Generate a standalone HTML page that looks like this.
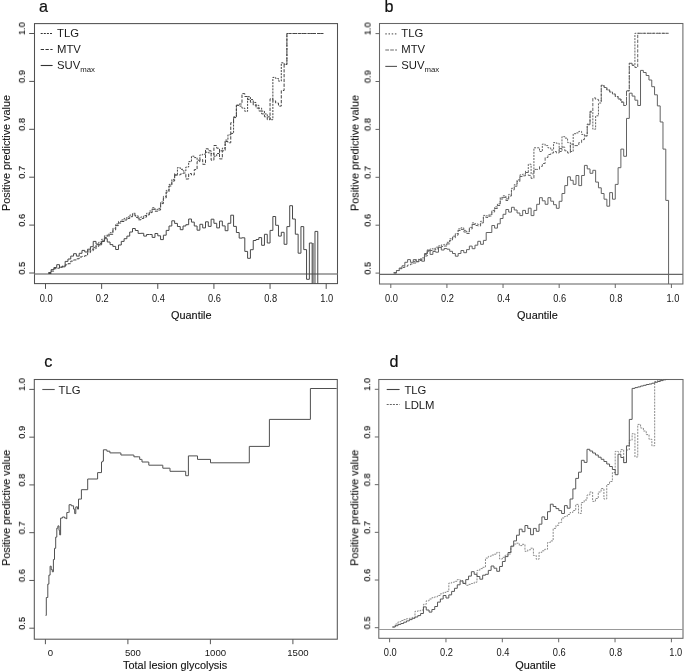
<!DOCTYPE html>
<html><head><meta charset="utf-8"><style>
html,body{margin:0;padding:0;background:#fff;}
svg{display:block;font-family:"Liberation Sans", sans-serif;} text{will-change:transform;}
</style></head><body>
<svg width="685" height="671" viewBox="0 0 685 671">
<rect width="685" height="671" fill="#fff"/>
<rect x="34.5" y="23.6" width="303.00" height="260.00" fill="none" stroke="#505050" stroke-width="1.05"/>
<line x1="45.50" y1="283.6" x2="45.50" y2="288.90000000000003" stroke="#505050" stroke-width="1"/>
<text transform="translate(46.1 302) scale(0.92 1)" font-size="10.1" text-anchor="middle" fill="#161616">0.0</text>
<line x1="101.64" y1="283.6" x2="101.64" y2="288.90000000000003" stroke="#505050" stroke-width="1"/>
<text transform="translate(102.24 302) scale(0.92 1)" font-size="10.1" text-anchor="middle" fill="#161616">0.2</text>
<line x1="157.78" y1="283.6" x2="157.78" y2="288.90000000000003" stroke="#505050" stroke-width="1"/>
<text transform="translate(158.38 302) scale(0.92 1)" font-size="10.1" text-anchor="middle" fill="#161616">0.4</text>
<line x1="213.92" y1="283.6" x2="213.92" y2="288.90000000000003" stroke="#505050" stroke-width="1"/>
<text transform="translate(214.52 302) scale(0.92 1)" font-size="10.1" text-anchor="middle" fill="#161616">0.6</text>
<line x1="270.06" y1="283.6" x2="270.06" y2="288.90000000000003" stroke="#505050" stroke-width="1"/>
<text transform="translate(270.66 302) scale(0.92 1)" font-size="10.1" text-anchor="middle" fill="#161616">0.8</text>
<line x1="326.20" y1="283.6" x2="326.20" y2="288.90000000000003" stroke="#505050" stroke-width="1"/>
<text transform="translate(326.8 302) scale(0.92 1)" font-size="10.1" text-anchor="middle" fill="#161616">1.0</text>
<line x1="29.2" y1="273.00" x2="34.5" y2="273.00" stroke="#505050" stroke-width="1"/>
<text transform="translate(24.9 268.2) rotate(-90) scale(0.95 1)" font-size="9.8" text-anchor="middle" fill="#000" stroke="#000" stroke-width="0.12">0.5</text>
<line x1="29.2" y1="225.10" x2="34.5" y2="225.10" stroke="#505050" stroke-width="1"/>
<text transform="translate(24.9 220.3) rotate(-90) scale(0.95 1)" font-size="9.8" text-anchor="middle" fill="#000" stroke="#000" stroke-width="0.12">0.6</text>
<line x1="29.2" y1="177.20" x2="34.5" y2="177.20" stroke="#505050" stroke-width="1"/>
<text transform="translate(24.9 172.4) rotate(-90) scale(0.95 1)" font-size="9.8" text-anchor="middle" fill="#000" stroke="#000" stroke-width="0.12">0.7</text>
<line x1="29.2" y1="129.30" x2="34.5" y2="129.30" stroke="#505050" stroke-width="1"/>
<text transform="translate(24.9 124.5) rotate(-90) scale(0.95 1)" font-size="9.8" text-anchor="middle" fill="#000" stroke="#000" stroke-width="0.12">0.8</text>
<line x1="29.2" y1="81.40" x2="34.5" y2="81.40" stroke="#505050" stroke-width="1"/>
<text transform="translate(24.9 76.6) rotate(-90) scale(0.95 1)" font-size="9.8" text-anchor="middle" fill="#000" stroke="#000" stroke-width="0.12">0.9</text>
<line x1="29.2" y1="33.50" x2="34.5" y2="33.50" stroke="#505050" stroke-width="1"/>
<text transform="translate(24.9 28.7) rotate(-90) scale(0.95 1)" font-size="9.8" text-anchor="middle" fill="#000" stroke="#000" stroke-width="0.12">1.0</text>
<text transform="translate(191.3 319.4)" font-size="10.9" text-anchor="middle" fill="#111" stroke="#111" stroke-width="0.12">Quantile</text>
<text transform="translate(10 153) rotate(-90)" font-size="10.8" text-anchor="middle" fill="#111" stroke="#111" stroke-width="0.12">Positive predictive value</text>
<text transform="translate(39.0 12.4) scale(0.95 1)" font-size="17" text-anchor="start" fill="#111" stroke="#111" stroke-width="0.2">a</text>
<rect x="379.5" y="23.5" width="303.40" height="260.50" fill="none" stroke="#666" stroke-width="1.05"/>
<line x1="390.80" y1="284" x2="390.80" y2="288.0" stroke="#666" stroke-width="1"/>
<text transform="translate(391.4 302.2) scale(0.92 1)" font-size="10.1" text-anchor="middle" fill="#161616">0.0</text>
<line x1="446.92" y1="284" x2="446.92" y2="288.0" stroke="#666" stroke-width="1"/>
<text transform="translate(447.52 302.2) scale(0.92 1)" font-size="10.1" text-anchor="middle" fill="#161616">0.2</text>
<line x1="503.04" y1="284" x2="503.04" y2="288.0" stroke="#666" stroke-width="1"/>
<text transform="translate(503.64 302.2) scale(0.92 1)" font-size="10.1" text-anchor="middle" fill="#161616">0.4</text>
<line x1="559.16" y1="284" x2="559.16" y2="288.0" stroke="#666" stroke-width="1"/>
<text transform="translate(559.76 302.2) scale(0.92 1)" font-size="10.1" text-anchor="middle" fill="#161616">0.6</text>
<line x1="615.28" y1="284" x2="615.28" y2="288.0" stroke="#666" stroke-width="1"/>
<text transform="translate(615.88 302.2) scale(0.92 1)" font-size="10.1" text-anchor="middle" fill="#161616">0.8</text>
<line x1="671.40" y1="284" x2="671.40" y2="288.0" stroke="#666" stroke-width="1"/>
<text transform="translate(672.9 302.2) scale(0.92 1)" font-size="10.1" text-anchor="middle" fill="#161616">1.0</text>
<line x1="375.5" y1="273.10" x2="379.5" y2="273.10" stroke="#666" stroke-width="1"/>
<text transform="translate(370.6 268.3) rotate(-90) scale(0.95 1)" font-size="9.8" text-anchor="middle" fill="#000" stroke="#000" stroke-width="0.12">0.5</text>
<line x1="375.5" y1="225.20" x2="379.5" y2="225.20" stroke="#666" stroke-width="1"/>
<text transform="translate(370.6 220.4) rotate(-90) scale(0.95 1)" font-size="9.8" text-anchor="middle" fill="#000" stroke="#000" stroke-width="0.12">0.6</text>
<line x1="375.5" y1="177.30" x2="379.5" y2="177.30" stroke="#666" stroke-width="1"/>
<text transform="translate(370.6 172.5) rotate(-90) scale(0.95 1)" font-size="9.8" text-anchor="middle" fill="#000" stroke="#000" stroke-width="0.12">0.7</text>
<line x1="375.5" y1="129.40" x2="379.5" y2="129.40" stroke="#666" stroke-width="1"/>
<text transform="translate(370.6 124.6) rotate(-90) scale(0.95 1)" font-size="9.8" text-anchor="middle" fill="#000" stroke="#000" stroke-width="0.12">0.8</text>
<line x1="375.5" y1="81.50" x2="379.5" y2="81.50" stroke="#666" stroke-width="1"/>
<text transform="translate(370.6 76.7) rotate(-90) scale(0.95 1)" font-size="9.8" text-anchor="middle" fill="#000" stroke="#000" stroke-width="0.12">0.9</text>
<line x1="375.5" y1="33.60" x2="379.5" y2="33.60" stroke="#666" stroke-width="1"/>
<text transform="translate(370.6 28.8) rotate(-90) scale(0.95 1)" font-size="9.8" text-anchor="middle" fill="#000" stroke="#000" stroke-width="0.12">1.0</text>
<text transform="translate(537.4 319.4)" font-size="10.9" text-anchor="middle" fill="#111" stroke="#111" stroke-width="0.12">Quantile</text>
<text transform="translate(358.6 153) rotate(-90)" font-size="10.8" text-anchor="middle" fill="#111" stroke="#111" stroke-width="0.12">Positive predictive value</text>
<text transform="translate(384.6 12.3) scale(0.95 1)" font-size="17" text-anchor="start" fill="#111" stroke="#111" stroke-width="0.2">b</text>
<rect x="34.3" y="379.5" width="303.00" height="259.70" fill="none" stroke="#555" stroke-width="1.05"/>
<line x1="45.40" y1="639.2" x2="45.40" y2="644.2" stroke="#555" stroke-width="1"/>
<text transform="translate(50.4 655.5)" font-size="9.6" text-anchor="middle" fill="#161616">0</text>
<line x1="127.90" y1="639.2" x2="127.90" y2="644.2" stroke="#555" stroke-width="1"/>
<text transform="translate(132.9 655.5)" font-size="9.6" text-anchor="middle" fill="#161616">500</text>
<line x1="210.40" y1="639.2" x2="210.40" y2="644.2" stroke="#555" stroke-width="1"/>
<text transform="translate(215.4 655.5)" font-size="9.6" text-anchor="middle" fill="#161616">1000</text>
<line x1="292.90" y1="639.2" x2="292.90" y2="644.2" stroke="#555" stroke-width="1"/>
<text transform="translate(297.9 655.5)" font-size="9.6" text-anchor="middle" fill="#161616">1500</text>
<line x1="29.299999999999997" y1="628.20" x2="34.3" y2="628.20" stroke="#555" stroke-width="1"/>
<text transform="translate(24.9 623.4) rotate(-90) scale(0.95 1)" font-size="9.8" text-anchor="middle" fill="#000" stroke="#000" stroke-width="0.12">0.5</text>
<line x1="29.299999999999997" y1="580.44" x2="34.3" y2="580.44" stroke="#555" stroke-width="1"/>
<text transform="translate(24.9 575.64) rotate(-90) scale(0.95 1)" font-size="9.8" text-anchor="middle" fill="#000" stroke="#000" stroke-width="0.12">0.6</text>
<line x1="29.299999999999997" y1="532.68" x2="34.3" y2="532.68" stroke="#555" stroke-width="1"/>
<text transform="translate(24.9 527.88) rotate(-90) scale(0.95 1)" font-size="9.8" text-anchor="middle" fill="#000" stroke="#000" stroke-width="0.12">0.7</text>
<line x1="29.299999999999997" y1="484.92" x2="34.3" y2="484.92" stroke="#555" stroke-width="1"/>
<text transform="translate(24.9 480.12) rotate(-90) scale(0.95 1)" font-size="9.8" text-anchor="middle" fill="#000" stroke="#000" stroke-width="0.12">0.8</text>
<line x1="29.299999999999997" y1="437.16" x2="34.3" y2="437.16" stroke="#555" stroke-width="1"/>
<text transform="translate(24.9 432.36) rotate(-90) scale(0.95 1)" font-size="9.8" text-anchor="middle" fill="#000" stroke="#000" stroke-width="0.12">0.9</text>
<line x1="29.299999999999997" y1="389.40" x2="34.3" y2="389.40" stroke="#555" stroke-width="1"/>
<text transform="translate(24.9 384.6) rotate(-90) scale(0.95 1)" font-size="9.8" text-anchor="middle" fill="#000" stroke="#000" stroke-width="0.12">1.0</text>
<text transform="translate(175.1 668.6)" font-size="10.9" text-anchor="middle" fill="#111" stroke="#111" stroke-width="0.12">Total lesion glycolysis</text>
<text transform="translate(10 507.8) rotate(-90)" font-size="10.8" text-anchor="middle" fill="#111" stroke="#111" stroke-width="0.12">Positive predictive value</text>
<text transform="translate(44.3 366.8) scale(0.95 1)" font-size="17" text-anchor="start" fill="#111" stroke="#111" stroke-width="0.2">c</text>
<rect x="378.8" y="379.5" width="304.20" height="258.80" fill="none" stroke="#666" stroke-width="1.05"/>
<line x1="389.60" y1="638.3" x2="389.60" y2="642.3" stroke="#666" stroke-width="1"/>
<text transform="translate(390.2 656.0) scale(0.92 1)" font-size="10.1" text-anchor="middle" fill="#161616">0.0</text>
<line x1="445.96" y1="638.3" x2="445.96" y2="642.3" stroke="#666" stroke-width="1"/>
<text transform="translate(446.56 656.0) scale(0.92 1)" font-size="10.1" text-anchor="middle" fill="#161616">0.2</text>
<line x1="502.32" y1="638.3" x2="502.32" y2="642.3" stroke="#666" stroke-width="1"/>
<text transform="translate(502.92 656.0) scale(0.92 1)" font-size="10.1" text-anchor="middle" fill="#161616">0.4</text>
<line x1="558.68" y1="638.3" x2="558.68" y2="642.3" stroke="#666" stroke-width="1"/>
<text transform="translate(559.28 656.0) scale(0.92 1)" font-size="10.1" text-anchor="middle" fill="#161616">0.6</text>
<line x1="615.04" y1="638.3" x2="615.04" y2="642.3" stroke="#666" stroke-width="1"/>
<text transform="translate(615.64 656.0) scale(0.92 1)" font-size="10.1" text-anchor="middle" fill="#161616">0.8</text>
<line x1="671.40" y1="638.3" x2="671.40" y2="642.3" stroke="#666" stroke-width="1"/>
<text transform="translate(675.8 656.0) scale(0.92 1)" font-size="10.1" text-anchor="middle" fill="#161616">1.0</text>
<line x1="374.8" y1="627.70" x2="378.8" y2="627.70" stroke="#666" stroke-width="1"/>
<text transform="translate(370.2 622.9) rotate(-90) scale(0.95 1)" font-size="9.8" text-anchor="middle" fill="#000" stroke="#000" stroke-width="0.12">0.5</text>
<line x1="374.8" y1="580.02" x2="378.8" y2="580.02" stroke="#666" stroke-width="1"/>
<text transform="translate(370.2 575.22) rotate(-90) scale(0.95 1)" font-size="9.8" text-anchor="middle" fill="#000" stroke="#000" stroke-width="0.12">0.6</text>
<line x1="374.8" y1="532.34" x2="378.8" y2="532.34" stroke="#666" stroke-width="1"/>
<text transform="translate(370.2 527.54) rotate(-90) scale(0.95 1)" font-size="9.8" text-anchor="middle" fill="#000" stroke="#000" stroke-width="0.12">0.7</text>
<line x1="374.8" y1="484.66" x2="378.8" y2="484.66" stroke="#666" stroke-width="1"/>
<text transform="translate(370.2 479.86) rotate(-90) scale(0.95 1)" font-size="9.8" text-anchor="middle" fill="#000" stroke="#000" stroke-width="0.12">0.8</text>
<line x1="374.8" y1="436.98" x2="378.8" y2="436.98" stroke="#666" stroke-width="1"/>
<text transform="translate(370.2 432.18) rotate(-90) scale(0.95 1)" font-size="9.8" text-anchor="middle" fill="#000" stroke="#000" stroke-width="0.12">0.9</text>
<line x1="374.8" y1="389.30" x2="378.8" y2="389.30" stroke="#666" stroke-width="1"/>
<text transform="translate(370.2 384.5) rotate(-90) scale(0.95 1)" font-size="9.8" text-anchor="middle" fill="#000" stroke="#000" stroke-width="0.12">1.0</text>
<text transform="translate(535.5 668.6)" font-size="10.9" text-anchor="middle" fill="#111" stroke="#111" stroke-width="0.12">Quantile</text>
<text transform="translate(358.3 507.8) rotate(-90)" font-size="10.8" text-anchor="middle" fill="#111" stroke="#111" stroke-width="0.12">Positive predictive value</text>
<text transform="translate(389.4 367) scale(0.95 1)" font-size="17" text-anchor="start" fill="#111" stroke="#111" stroke-width="0.2">d</text>
<line x1="34.5" y1="274" x2="337.5" y2="274" stroke="#8a8a8a" stroke-width="1.3"/>
<line x1="379.5" y1="274.4" x2="682.9" y2="274.4" stroke="#666" stroke-width="1.1"/>
<line x1="378.8" y1="629.5" x2="683" y2="629.5" stroke="#999" stroke-width="1.1"/>
<line x1="40.7" y1="33.5" x2="52.6" y2="33.5" stroke="#333" stroke-width="1.1" stroke-dasharray="2 1.1"/>
<text x="57" y="36.9" font-size="11.3" fill="#1a1a1a">TLG</text>
<line x1="40.7" y1="49.5" x2="52.6" y2="49.5" stroke="#333" stroke-width="1.1" stroke-dasharray="3.3 1.5"/>
<text x="57" y="52.9" font-size="11.3" fill="#1a1a1a">MTV</text>
<line x1="40.7" y1="65.5" x2="52.6" y2="65.5" stroke="#333" stroke-width="1.1"/>
<text x="57" y="68.9" font-size="11.3" fill="#1a1a1a">SUV<tspan font-size="7.8" dy="2.6">max</tspan></text>
<line x1="385.3" y1="33.9" x2="397" y2="33.9" stroke="#6a6a6a" stroke-width="1.1" stroke-dasharray="1.5 1.7"/>
<text x="401.3" y="36.9" font-size="11.3" fill="#1a1a1a">TLG</text>
<line x1="385.3" y1="50.0" x2="397" y2="50.0" stroke="#6a6a6a" stroke-width="1.1" stroke-dasharray="3.7 1.2"/>
<text x="401.3" y="53.2" font-size="11.3" fill="#1a1a1a">MTV</text>
<line x1="385.3" y1="66.4" x2="397" y2="66.4" stroke="#555" stroke-width="1.1"/>
<text x="401.3" y="69.4" font-size="11.3" fill="#1a1a1a">SUV<tspan font-size="7.8" dy="2.6">max</tspan></text>
<line x1="42.3" y1="389.5" x2="54.7" y2="389.5" stroke="#555" stroke-width="1.1"/>
<text x="58.6" y="393.5" font-size="11.3" fill="#1a1a1a">TLG</text>
<line x1="386.7" y1="389.5" x2="399.6" y2="389.5" stroke="#444" stroke-width="1.1"/>
<text x="404.4" y="393.5" font-size="11.3" fill="#1a1a1a">TLG</text>
<line x1="386.7" y1="404.5" x2="399.6" y2="404.5" stroke="#666" stroke-width="1.1" stroke-dasharray="2 1.1"/>
<text x="404.4" y="408.5" font-size="11.3" fill="#1a1a1a">LDLM</text>
<defs><clipPath id="ca"><rect x="34.3" y="23.6" width="303.1" height="260.2"/></clipPath><clipPath id="cb"><rect x="379.4" y="23.6" width="302.8" height="260.4"/></clipPath><clipPath id="cd"><rect x="378.7" y="379.4" width="304.2" height="258.9"/></clipPath></defs>
<path d="M48.31 272.50H51.11V269.60H53.92V267.50H56.73V264.70H59.53V267.20H62.34V266.80H65.15V261.40H67.96V259.00H70.76V256.10H73.57V253.70H76.38V256.10H79.18V253.30H81.99V250.40H84.80V252.00H87.60V249.20H90.41V246.70H93.22V241.40H96.03V244.10H98.83V244.80H101.64V241.50H104.45V238.70H107.25V242.00H110.06V244.60H112.87V246.40H115.67V249.50H118.48V245.00H121.29V241.40H124.10V238.70H126.90V236.10H129.71V232.00H132.52V228.50H135.32V230.50H138.13V233.40H140.94V233.30H143.75V236.10H146.55V234.50H149.36V234.50H152.17V237.40H154.97V233.50H157.78V235.80H160.59V239.60H163.39V235.20H166.20V230.40H169.01V226.00H171.81V220.80H174.62V223.40H177.43V226.50H180.24V229.70H183.04V226.00H185.85V224.70H188.66V219.00H191.46V222.10H194.27V226.00H197.08V230.20H199.88V224.30H202.69V227.90H205.50V221.80H208.31V226.40H211.11V219.20H213.92V223.30H216.73V227.90H219.53V221.10H222.34V225.90H225.15V230.70H227.95V223.30H230.76V215.20H233.57V226.40H236.38V232.50H239.18V238.10H241.99V237.80H244.80V251.40H247.60V258.30H250.41V249.70H253.22V240.50H256.02V239.50H258.83V237.60H261.64V245.30H264.45V234.30H267.25V243.00H270.06V230.40H272.87V216.50H275.67V225.30H278.48V236.10H281.29V232.30H284.10V244.30H286.90V226.60H289.71V205.70H292.52V219.00H295.32V234.20H298.13V253.20H300.94V226.60H303.74V249.60H306.55V279.30H309.36V243.00H312.17V292.00H314.97V231.40H317.78V292.00" fill="none" stroke="#484848" stroke-width="1.0" clip-path="url(#ca)"/>
<path d="M313.1 243.0V284.0" fill="none" stroke="#555" stroke-width="1.0" clip-path="url(#ca)"/>
<path d="M48.31 273.50H51.11V271.10H53.92V268.70H56.73V268.20H59.53V267.10H62.34V266.00H65.15V264.85H67.96V263.70H70.76V261.10H73.57V259.95H76.38V258.80H79.18V257.00H81.99V256.35H84.80V255.70H87.60V252.60H90.41V250.80H93.22V249.00H96.03V246.30H98.83V243.60H101.64V240.90H104.45V237.40H107.25V235.85H110.06V234.30H112.87V229.95H115.67V225.60H118.48V223.00H121.29V221.50H124.10V220.00H126.90V218.50H129.71V216.70H132.52V214.90H135.32V217.35H138.13V219.80H140.94V218.45H143.75V217.10H146.55V214.85H149.36V212.60H152.17V209.30H154.97V211.20H157.78V210.00H160.59V203.60H163.39V198.00H166.20V192.00H169.01V186.00H171.81V181.00H174.62V175.00" fill="none" stroke="#444" stroke-width="1.0" stroke-dasharray="3.3 1.5" clip-path="url(#ca)"/>
<path d="M87.60 251.00H90.41V249.20H93.22V247.40H96.03V244.70H98.83V242.00H101.64V239.30H104.45V235.80H107.25V234.25H110.06V232.70H112.87V228.35H115.67V224.00H118.48V221.40H121.29V219.90H124.10V218.40H126.90V216.90H129.71V215.10H132.52V213.30H135.32V215.75H138.13V218.20H140.94V216.85H143.75V215.50H146.55V213.25H149.36V211.00H152.17V207.70H154.97V209.60H157.78V208.40H160.59V202.00H163.39V196.40H166.20V190.40H169.01V184.40H171.81V179.40H174.62V173.40" fill="none" stroke="#555" stroke-width="1.0" stroke-dasharray="2 1.1" clip-path="url(#ca)"/>
<path d="M174.62 175.00H177.43V175.00H180.24V174.00H183.04V173.00H185.85V179.00H188.66V173.60H191.46V175.00H194.27V169.60H197.08V161.60H199.88V159.60H202.69V164.30H205.50V148.80H208.31V150.80H211.11V160.20H213.92V145.50H216.73V148.20H219.53V158.90H222.34V150.80H225.15V141.50H227.95V142.80H230.76V122.70H233.57V117.60H236.38V105.10H239.18V104.00H241.99V93.60H244.80V96.50H247.60V99.40H250.41V102.30H253.22V105.20H256.02V108.10H258.83V111.00H261.64V113.90H264.45V116.80H267.25V119.70H270.06V98.80H272.87V100.90H275.67V103.00H278.48V106.10H281.29V90.50H284.10V64.40H286.90V33.50H289.71V33.50H292.52V33.50H295.32V33.50H298.13V33.50H300.94V33.50H303.74V33.50H306.55V33.50H309.36V33.50H312.17V33.50H314.97V33.50H317.78V33.50H320.59V33.50H323.39V33.50" fill="none" stroke="#444" stroke-width="1.0" stroke-dasharray="3.3 1.5" clip-path="url(#ca)"/>
<path d="M174.62 175.00H177.43V167.60H180.24V169.30H183.04V171.00H185.85V167.00H188.66V161.60H191.46V156.20H194.27V157.60H197.08V160.20H199.88V154.90H202.69V154.20H205.50V152.20H208.31V152.85H211.11V153.50H213.92V156.20H216.73V153.50H219.53V150.80H222.34V148.20H225.15V140.10H227.95V134.80H230.76V133.40H233.57V116.90H236.38V105.40H239.18V106.10H241.99V108.20H244.80V111.30H247.60V96.70H250.41V99.58H253.22V102.45H256.02V105.33H258.83V108.20H261.64V111.08H264.45V113.95H267.25V116.83H270.06V119.70H272.87V77.40H275.67V78.50H278.48V81.10H281.29V62.80H284.10V64.40H286.90V33.50H289.71V33.50H292.52V33.50H295.32V33.50H298.13V33.50H300.94V33.50H303.74V33.50H306.55V33.50H309.36V33.50H312.17V33.50H314.97V33.50H317.78V33.50H320.59V33.50H323.39V33.50" fill="none" stroke="#444" stroke-width="1.0" stroke-dasharray="2 1.1" clip-path="url(#ca)"/>
<path d="M393.61 273.20H396.41V270.60H399.22V268.00H402.02V265.80H404.83V262.30H407.64V259.60H410.44V262.30H413.25V259.60H416.05V261.80H418.86V259.60H421.67V261.20H424.47V253.50H427.28V250.40H430.08V254.40H432.89V251.50H435.70V252.20H438.50V247.40H441.31V250.00H444.11V248.50H446.92V249.20H449.73V251.30H452.53V253.50H455.34V256.20H458.14V253.50H460.95V250.50H463.76V252.70H466.56V249.60H469.37V246.10H472.17V248.70H474.98V245.20H477.79V241.30H480.59V244.30H483.40V240.40H486.20V232.50H489.01V232.50H491.82V225.50H494.62V228.10H497.43V223.80H500.23V218.50H503.04V214.30H505.85V209.50H508.65V212.10H511.46V207.30H514.26V210.00H517.07V213.00H519.88V215.60H522.68V210.40H525.49V213.50H528.29V208.20H531.10V215.60H533.91V210.40H536.71V204.30H539.52V197.70H542.32V200.80H545.13V204.30H547.94V197.70H550.74V201.20H553.55V204.70H556.35V208.30H559.16V201.30H561.97V193.50H564.77V185.60H567.58V176.80H570.38V180.30H573.19V184.30H576.00V175.50H578.80V185.60H581.61V175.50H584.41V165.40H587.22V168.90H590.03V173.30H592.83V170.30H595.64V182.10H598.44V187.80H601.25V193.50H604.06V199.20H606.86V206.20H609.67V192.60H612.47V199.20H615.28V184.40H618.09V167.70H620.89V149.10H623.70V156.30H626.50V118.40H629.31V93.20H632.12V96.10H634.92V100.20H637.73V105.50H640.53V70.40H643.34V72.50H646.15V75.50H648.95V80.00H651.76V86.70H654.56V94.80H657.37V105.90H660.18V122.00H662.98V149.10H665.79V200.40H668.59V300.00" fill="none" stroke="#626262" stroke-width="1.0" clip-path="url(#cb)"/>
<path d="M393.61 272.50H396.41V270.50H399.22V268.70H402.02V267.50H404.83V266.30H407.64V265.00H410.44V264.00H413.25V263.00H416.05V261.50H418.86V260.50H421.67V259.50H424.47V256.00H427.28V251.50H430.08V250.50H432.89V250.00H435.70V248.80H438.50V247.50H441.31V246.50H444.11V246.00H446.92V243.90H449.73V240.40H452.53V237.80H455.34V235.10H458.14V230.50H460.95V229.40H463.76V232.00H466.56V233.50H469.37V229.00H472.17V224.50H474.98V225.50H477.79V226.00H480.59V222.90H483.40V217.00H486.20V217.50H489.01V216.00H491.82V212.00H494.62V208.50H497.43V205.50H500.23V199.00H503.04V197.40H505.85V200.50H508.65V196.00H511.46V189.90H514.26V186.20H517.07V181.50H519.88V176.50H522.68V175.80H525.49V172.50" fill="none" stroke="#626262" stroke-width="1.0" stroke-dasharray="3.3 1.5" clip-path="url(#cb)"/>
<path d="M413.25 261.40H416.05V259.90H418.86V258.90H421.67V257.90H424.47V254.40H427.28V249.90H430.08V248.90H432.89V248.40H435.70V247.20H438.50V245.90H441.31V244.90H444.11V244.40H446.92V242.30H449.73V238.80H452.53V236.20H455.34V233.50H458.14V228.90H460.95V227.80H463.76V230.40H466.56V231.90H469.37V227.40H472.17V222.90H474.98V223.90H477.79V224.40H480.59V221.30H483.40V215.40H486.20V215.90H489.01V214.40H491.82V210.40H494.62V206.90H497.43V203.90H500.23V197.40H503.04V195.80H505.85V198.90H508.65V194.40H511.46V188.30H514.26V184.60H517.07V179.90H519.88V174.90H522.68V174.20H525.49V170.90" fill="none" stroke="#666" stroke-width="1.0" stroke-dasharray="2 1.1" clip-path="url(#cb)"/>
<path d="M525.49 172.50H528.29V175.40H531.10V178.40H533.91V169.40H536.71V169.40H539.52V166.40H542.32V163.50H545.13V157.50H547.94V154.50H550.74V153.00H553.55V151.50H556.35V153.00H559.16V148.60H561.97V147.10H564.77V150.80H567.58V153.00H570.38V144.10H573.19V145.60H576.00V145.60H578.80V142.60H581.61V139.60H584.41V135.90H587.22V124.70H590.03V111.30H592.83V97.90H595.64V99.40H598.44V100.90H601.25V85.20H604.06V87.50H606.86V90.00H609.67V92.00H612.47V94.00H615.28V96.50H618.09V99.00H620.89V102.00H623.70V105.50H626.50V90.80H629.31V63.30H632.12V65.30H634.92V67.50H637.73V33.30H640.53V33.30H643.34V33.30H646.15V33.30H648.95V33.30H651.76V33.30H654.56V33.30H657.37V33.30H660.18V33.30H662.98V33.30H665.79V33.30H668.59V33.30" fill="none" stroke="#626262" stroke-width="1.0" stroke-dasharray="3.3 1.5" clip-path="url(#cb)"/>
<path d="M525.49 172.50H528.29V164.20H531.10V173.90H533.91V147.80H536.71V147.80H539.52V151.50H542.32V144.10H545.13V145.60H547.94V147.80H550.74V150.00H553.55V142.60H556.35V143.30H559.16V151.50H561.97V136.60H564.77V138.10H567.58V142.60H570.38V151.50H573.19V133.70H576.00V132.90H578.80V131.40H581.61V134.40H584.41V135.90H587.22V124.00H590.03V112.00H592.83V129.20H595.64V115.80H598.44V103.00H601.25V85.50H604.06V87.50H606.86V90.00H609.67V92.00H612.47V94.00H615.28V96.50H618.09V99.00H620.89V102.00H623.70V105.50H626.50V90.80H629.31V63.30H632.12V65.30H634.92V33.30H637.73V33.30H640.53V33.30H643.34V33.30H646.15V33.30H648.95V33.30H651.76V33.30H654.56V33.30H657.37V33.30H660.18V33.30H662.98V33.30H665.79V33.30H668.59V33.30" fill="none" stroke="#626262" stroke-width="1.0" stroke-dasharray="2 1.1" clip-path="url(#cb)"/>
<path d="M45.6 615.4H46.3V597.5H47.8V584.1H48.9V575.1H50.1V566.2H51.2V569.6H52.3V571.8H53.4V559.5H54.5V548.3H55.7V537.1H56.8V528.2H57.9V525.9H59.0V530.4H59.7V534.9H60.6V518.1H62.4V517.0H64.6V518.1H66.4V518.8H66.8V512.5H68.6H69.1V504.7H71.3V505.8H73.6V509.1H74.7V513.6H75.8V506.9H77.6V509.1H78.5V499.1H80.7H81.4V489.7H87.0H87.7V479.0H97.6V472.6H101.1H101.5V462.0H102.4V461.2H103.4V449.8H106.4H106.9V451.2H109.0H109.9V452.9H120.4H120.9V455.0H133.5H133.9V456.8H138.8H139.7V459.4H141.4H142.0V462.0H148.4H148.8V465.2H162.4H162.8V468.2H169.5H170.0V471.3H185.2H185.7V475.7H187.9H188.4V455.9H197.1H197.5V459.4H210.5V462.8H249.3V446.4H269.4V419.4H310.4V388.5H336.7" fill="none" stroke="#505050" stroke-width="1.0"/>
<path d="M392.42 627.00H395.24V624.00H398.06V621.80H400.88V620.50H403.70V619.60H406.52V618.70H409.34V618.30H412.16V617.40H414.98V611.30H417.80V610.80H420.62V610.00H423.44V604.30H426.26V600.80H429.08V599.00H431.90V597.70H434.72V596.80H437.54V595.50H440.36V593.80H443.18V592.40H446.00V591.40H448.82V583.10H451.64V582.20H454.46V581.30H457.28V579.60H460.10V580.50H462.92V583.00H465.74V585.30H468.56V584.40H471.38V583.50H474.20V582.20H477.02V570.40H479.84V568.60H482.66V567.30H485.48V558.10H488.30V556.40H491.12V555.00H493.94V554.20H496.76V552.40H499.58V559.00H502.40V557.30H505.22V555.00H508.04V554.00H510.86V546.70H513.68V544.00H516.50V543.20H519.32V545.60H522.14V544.30H524.96V551.30H527.78V549.80H530.60V548.20H533.42V555.50H536.24V559.20H539.06V552.40H541.88V550.80H544.70V549.30H547.52V542.50H550.34V540.90H553.16V528.40H555.98V525.30H558.80V522.50H561.62V518.00H564.44V516.50H567.26V514.50H570.08V512.50H572.90V510.50H575.72V504.40H578.54V513.40H581.36V502.50H584.18V500.00H587.00V495.00H589.82V492.00H592.64V501.40H595.46V498.50H598.28V492.00H601.10V488.50H603.92V499.00H606.74V484.50H609.56V481.50H612.38V472.50H615.20V451.40H618.02V452.00H620.84V449.60H623.66V462.60H626.48V450.00H629.30V440.20H632.12V433.70H634.94V457.00H637.76V424.40H640.58V428.00H643.40V431.00H646.22V434.60H649.04V439.30H651.86V445.80H654.68V381.50H657.50V380.50H660.32V379.70H663.14V378.80H665.96V378.00H668.78V377.00" fill="none" stroke="#8a8a8a" stroke-width="1.0" stroke-dasharray="2 1.1" clip-path="url(#cd)"/>
<path d="M392.42 627.00H395.24V625.70H398.06V624.40H400.88V623.50H403.70V622.20H406.52V620.90H409.34V619.60H412.16V618.30H414.98V617.00H417.80V615.60H420.62V613.50H423.44V606.90H426.26V610.00H429.08V612.10H431.90V609.50H434.72V606.50H437.54V602.10H440.36V599.00H443.18V595.50H446.00V598.00H448.82V594.90H451.64V591.40H454.46V588.30H457.28V584.80H460.10V581.00H462.92V583.50H465.74V579.60H468.56V576.10H471.38V571.70H474.20V574.30H477.02V576.50H479.84V579.20H482.66V575.20H485.48V574.30H488.30V570.40H491.12V566.00H493.94V568.20H496.76V571.30H499.58V566.50H502.40V561.50H505.22V556.60H508.04V552.50H510.86V546.10H513.68V540.90H516.50V535.20H519.32V529.20H522.14V531.70H524.96V525.50H527.78V528.40H530.60V534.70H533.42V528.40H536.24V531.30H539.06V524.20H541.88V516.90H544.70V519.50H547.52V511.70H550.34V504.20H553.16V506.50H555.98V508.60H558.80V510.60H561.62V513.50H564.44V505.60H567.26V508.20H570.08V499.00H572.90V488.90H575.72V478.40H578.54V472.20H581.36V460.30H584.18V462.40H587.00V449.30H589.82V451.00H592.64V453.00H595.46V455.00H598.28V457.20H601.10V459.30H603.92V461.50H606.74V464.00H609.56V466.50H612.38V469.50H615.20V474.70H618.02V454.20H620.84V457.50H623.66V462.60H626.48V445.80H629.30V419.40H632.12V388.40H634.94V387.60H637.76V386.90H640.58V386.00H643.40V385.30H646.22V384.50H649.04V384.00H651.86V383.20H654.68V382.30H657.50V381.50H660.32V380.60H663.14V379.80H665.96V379.00H668.78V378.00" fill="none" stroke="#585858" stroke-width="1.0" clip-path="url(#cd)"/>
</svg>
</body></html>
